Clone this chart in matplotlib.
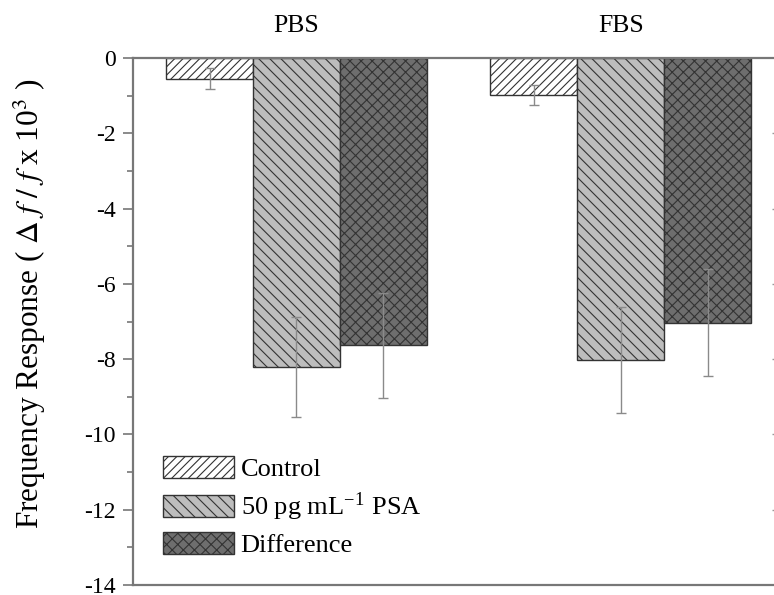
import numpy as np
import matplotlib.pyplot as plt
from matplotlib.patches import Patch

plt.rcParams['font.family'] = ['Liberation Serif', 'DejaVu Serif']
plt.rcParams['mathtext.fontset'] = 'stix'
plt.rcParams['axes.unicode_minus'] = False
plt.rcParams['hatch.linewidth'] = 0.8

# data
groups = ['PBS', 'FBS']
series = ['Control', '50 pg mL$^{\\mathregular{-1}}$ PSA', 'Difference']
control = [-0.55, -0.98]
control_err = [0.28, 0.27]
psa = [-8.2, -8.02]
psa_err = [1.33, 1.40]
diff = [-7.63, -7.03]
diff_err = [1.39, 1.42]

# styles
faces = ['white', '#bdbdbd', '#6e6e6e']
hatches = ['////', '\\\\\\', 'xxx']
edge = '#333333'

group_x = np.array([1.0, 4.73])
offsets = [-1, 0, 1]
values = [control, psa, diff]
errors = [control_err, psa_err, diff_err]

fig = plt.figure(figsize=(7.74, 5.95), dpi=100)
ax = fig.add_axes([133 / 774, 10 / 595, 647 / 774, 527 / 595])

for k in range(3):
    ax.bar(group_x + offsets[k], values[k], width=1.0, color=faces[k],
           edgecolor=edge, hatch=hatches[k], linewidth=1.0, zorder=2)
    ax.errorbar(group_x + offsets[k], values[k], yerr=errors[k], fmt='none',
                ecolor='#8a8a8a', elinewidth=1.0, capsize=3.5, capthick=1.0,
                zorder=3)

ax.set_xlim(-0.88, 6.56)
ax.set_ylim(-14, 0)
ax.set_yticks(np.arange(-14, 1, 2))
ax.set_yticks(np.arange(-13, 0, 2), minor=True)
ax.set_xticks([])

for s in ['left', 'top', 'bottom', 'right']:
    ax.spines[s].set_color('#777777')
    ax.spines[s].set_linewidth(1.6)

ax.tick_params(axis='y', which='major', direction='out', length=7.5,
               width=1.2, color='#777777', labelsize=17, pad=5)
ax.tick_params(axis='y', which='minor', direction='out', length=4,
               width=1.2, color='#777777')

sec = ax.secondary_yaxis('right')
sec.set_yticks(np.arange(-12, 0, 2))
sec.tick_params(axis='y', direction='in', length=6, width=1.0,
                color='#999999', labelright=False)

for g, gx in zip(groups, group_x):
    ax.text(gx, 1.049, g, transform=ax.get_xaxis_transform(),
            ha='center', va='baseline', fontsize=18.5)

ax.set_ylabel(r'Frequency Response ( $\Delta\ f\ /\ f$ x 10$^3$ )',
              fontsize=22.5)
ax.yaxis.set_label_coords(-0.131, 0.535)

handles = [Patch(facecolor=faces[k], edgecolor=edge, hatch=hatches[k],
                 linewidth=1.0) for k in range(3)]
ax.legend(handles, series, loc='upper left', bbox_to_anchor=(0.046, 0.245),
          frameon=False, fontsize=19, handlelength=2.7, handleheight=0.91,
          handletextpad=0.25, labelspacing=0.35, borderpad=0, borderaxespad=0)

fig.savefig('out.png', dpi=100)
